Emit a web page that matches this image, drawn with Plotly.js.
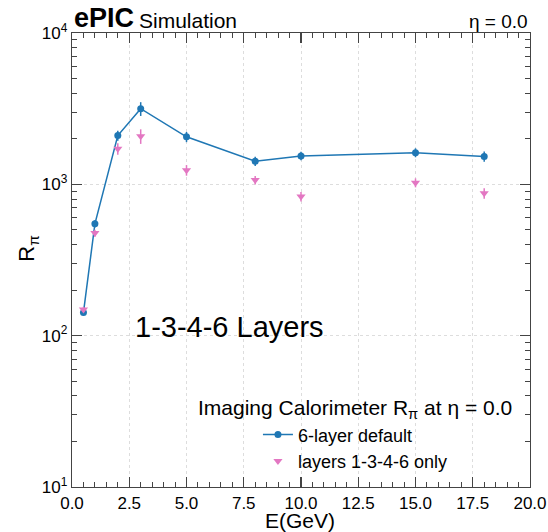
<!DOCTYPE html>
<html>
<head>
<meta charset="utf-8">
<script src="https://cdn.plot.ly/plotly-3.0.1.min.js"></script>
<style>html,body{margin:0;padding:0;background:#fff;}#chart{width:548px;height:532px;}</style>
</head>
<body>
<div id="chart"></div>
<script>
const energy = [0.5, 1, 2, 3, 5, 8, 10, 15, 18];
const rDefault = [142, 548, 2100, 3160, 2060, 1420, 1540, 1620, 1530];
const rDefaultErr = [6, 30, 160, 330, 160, 100, 100, 110, 120];
const rLayers = [149, 476, 1720, 2080, 1240, 1067, 830, 1025, 873];
const rLayersErr = [6, 25, 150, 230, 100, 70, 60, 70, 70];
const xTickVals = [0, 2.5, 5, 7.5, 10, 12.5, 15, 17.5, 20];
const yTickVals = [10, 100, 1000, 10000];
const yTickText = ['10<sup>1</sup>', '10<sup>2</sup>', '10<sup>3</sup>', '10<sup>4</sup>'];

const yMinorVals = [];
[10, 100, 1000].forEach(function (d) { for (let k = 2; k <= 9; k++) yMinorVals.push(k * d); });
const xMinorVals = [];
for (let i = 0; i <= 40; i++) { if (i % 5 !== 0) xMinorVals.push(i * 0.5); }

const FONT = 'Liberation Sans, Arial, Helvetica, sans-serif';
const blue = '#1f77b4';
const pink = '#e377c2';
const axisColor = '#444';

const traces = [
  {
    x: energy, y: rDefault, name: '6-layer default', type: 'scatter', mode: 'lines+markers',
    line: {color: blue, width: 1.5},
    marker: {color: blue, size: 7, symbol: 'circle'},
    error_y: {type: 'data', array: rDefaultErr, visible: true, color: blue, thickness: 1.5, width: 0},
    legendgroup: 'a'
  },
  {
    x: energy, y: rLayers, name: 'layers 1-3-4-6 only', type: 'scatter', mode: 'markers',
    marker: {color: pink, size: 8, symbol: 'triangle-down'},
    error_y: {type: 'data', array: rLayersErr, visible: true, color: pink, thickness: 1.5, width: 0},
    legendgroup: 'b'
  }
];

const minorStyle = {tickmode: 'array', ticks: 'inside', ticklen: 5, tickwidth: 1, tickcolor: axisColor, showgrid: false};

const layout = {
  width: 548, height: 532,
  margin: {l: 72, r: 17.5, t: 33, b: 44.5},
  paper_bgcolor: '#fff', plot_bgcolor: '#fff',
  font: {family: FONT, color: '#000', size: 17},
  showlegend: true,
  legend: {
    x: 0.406, y: 0.017, xanchor: 'left', yanchor: 'bottom',
    bgcolor: 'rgba(0,0,0,0)', borderwidth: 0,
    font: {family: FONT, size: 18, color: '#000'},
    traceorder: 'grouped', tracegroupgap: 0
  },
  xaxis: {
    range: [0, 20], tickmode: 'array', tickvals: xTickVals, tickformat: '.1f',
    ticks: 'inside', ticklen: 10, tickwidth: 1.2, tickcolor: axisColor,
    showline: true, linecolor: axisColor, linewidth: 1.2, mirror: 'allticks',
    showgrid: true, gridcolor: '#dddddd', griddash: 'dot', gridwidth: 1,
    zeroline: false,
    minor: Object.assign({tickvals: xMinorVals}, minorStyle),
    tickfont: {family: FONT, size: 17}
  },
  yaxis: {
    type: 'log', range: [1, 4], tickmode: 'array', tickvals: yTickVals, ticktext: yTickText,
    ticks: 'inside', ticklen: 10, tickwidth: 1.2, tickcolor: axisColor,
    showline: true, linecolor: axisColor, linewidth: 1.2, mirror: 'allticks',
    showgrid: true, gridcolor: '#dddddd', griddash: 'dot', gridwidth: 1,
    zeroline: false,
    minor: Object.assign({tickvals: yMinorVals}, minorStyle),
    tickfont: {family: FONT, size: 17}
  },
  annotations: [
    {xref: 'paper', yref: 'paper', x: 0, y: 1, xanchor: 'left', yanchor: 'bottom', yshift: -2,
     text: '<b>ePIC</b>', showarrow: false, font: {family: FONT, size: 27, color: '#000'}},
    {xref: 'paper', yref: 'paper', x: 0.142, y: 1, xanchor: 'left', yanchor: 'bottom', yshift: -1,
     text: 'Simulation', showarrow: false, font: {family: FONT, size: 21, color: '#000'}},
    {xref: 'paper', yref: 'paper', x: 1, y: 1, xanchor: 'right', yanchor: 'bottom', yshift: -1,
     text: 'η = 0.0', showarrow: false, font: {family: FONT, size: 19, color: '#000'}},
    {xref: 'paper', yref: 'paper', x: 0.133, y: 0.352, xanchor: 'left', yanchor: 'middle',
     text: '1-3-4-6 Layers', showarrow: false, font: {family: FONT, size: 29, color: '#000'}},
    {xref: 'paper', yref: 'paper', x: 0.617, y: 0.172, xanchor: 'center', yanchor: 'middle',
     text: 'Imaging Calorimeter R<sub>π</sub> at η = 0.0', showarrow: false, font: {family: FONT, size: 21, color: '#000'}},
    {xref: 'paper', yref: 'paper', x: 0.498, y: -0.074, xanchor: 'center', yanchor: 'middle',
     text: 'E(GeV)', showarrow: false, font: {family: FONT, size: 21, color: '#000'}},
    {xref: 'paper', yref: 'paper', x: -0.096, y: 0.525, xanchor: 'center', yanchor: 'middle', textangle: -90,
     text: 'R<sub>π</sub>', showarrow: false, font: {family: FONT, size: 22, color: '#000'}}
  ]
};

Plotly.newPlot('chart', traces, layout, {displayModeBar: false, staticPlot: true});
</script>
</body>
</html>
